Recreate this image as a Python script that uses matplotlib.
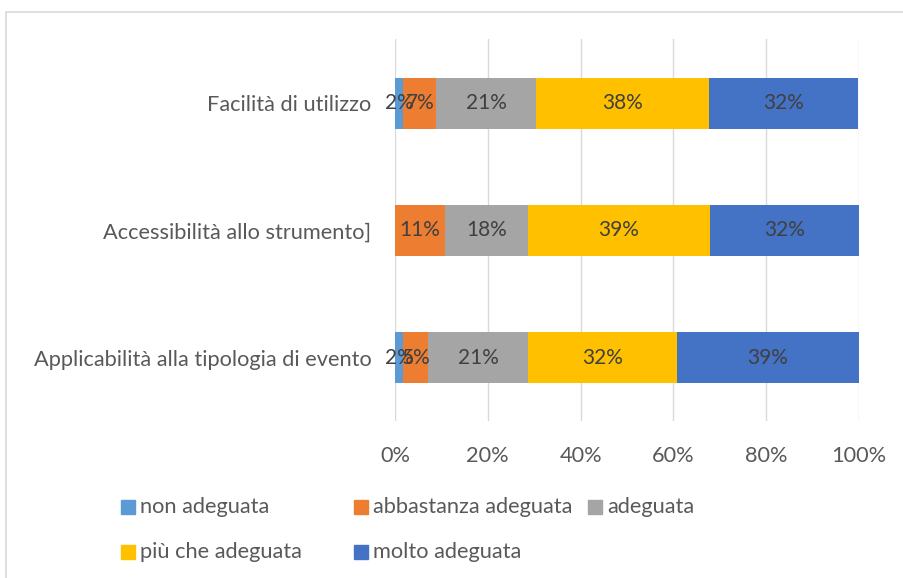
import matplotlib
matplotlib.use("Agg")
import matplotlib.pyplot as plt
from matplotlib.patches import Rectangle
import numpy as np

# domande (dall'alto verso il basso)
domande = ["Facilità di utilizzo", "Accessibilità allo strumento]",
           "Applicabilità alla tipologia di evento"]
livelli = ["non adeguata", "abbastanza adeguata", "adeguata",
           "più che adeguata", "molto adeguata"]
colori = ["#5B9BD5", "#ED7D31", "#A5A5A5", "#FFC000", "#4472C4"]

# percentuali per livello, una lista per domanda
facilita = [1.8, 7.1, 21.4, 37.5, 32.1]
accessibilita = [0.0, 10.7, 17.9, 39.3, 32.1]
applicabilita = [1.8, 5.4, 21.4, 32.1, 39.3]

valori = np.array([facilita, accessibilita, applicabilita]) / 100.0

GRIGIO = "#595959"
FS = 15.7
W, H = 904, 578
plt.rcParams["font.family"] = ["Lato", "DejaVu Sans"]

fig = plt.figure(figsize=(W / 100, H / 100), dpi=100)
ax = fig.add_axes([0.437, 0.2708, 0.513, 0.661])

# cornice del grafico (tipo Excel)
fig.patches.append(Rectangle((6 / W, -0.1), 1.2, 1 - 12 / H + 0.1,
                             transform=fig.transFigure, fill=False,
                             edgecolor="#D9D9D9", lw=1.2))

y = np.arange(len(domande))
left = np.zeros(len(domande))
for j, (liv, col) in enumerate(zip(livelli, colori)):
    w = valori[:, j]
    ax.barh(y, w, left=left, height=0.4, color=col, label=liv, zorder=3)
    for i in range(len(domande)):
        if w[i] > 0:
            ax.text(left[i] + w[i] / 2, y[i], f"{w[i] * 100:.0f}%",
                    ha="center", va="center", fontsize=15, color="#404040", zorder=4)
    left += w

ax.set_xlim(0, 1)
ax.set_ylim(len(domande) - 0.5, -0.5)
ax.set_yticks(y)
ax.set_yticklabels(domande)
ax.set_xticks(np.linspace(0, 1, 6))
ax.set_xticklabels([f"{int(v)}%" for v in np.linspace(0, 100, 6)])
ax.tick_params(length=0, labelsize=FS, labelcolor=GRIGIO)
ax.tick_params(axis="y", pad=17)
ax.tick_params(axis="x", pad=18)
ax.grid(axis="x", color="#D9D9D9", lw=1, zorder=0)
for s in ax.spines.values():
    s.set_visible(False)

# legenda disegnata a mano su una griglia a colonne (come Excel)
col_x = [121, 354, 588]
row_y = [507, 552]
posti = [(0, 0), (0, 1), (0, 2), (1, 0), (1, 1)]
for (r, c), liv, col in zip(posti, livelli, colori):
    x0, y0 = col_x[c], row_y[r]
    fig.patches.append(Rectangle((x0 / W, 1 - (y0 + 7) / H), 14 / W, 14 / H,
                                 transform=fig.transFigure, color=col))
    fig.text((x0 + 19) / W, 1 - y0 / H, liv, ha="left", va="center",
             fontsize=FS, color=GRIGIO)

fig.savefig("out.png", dpi=100)
